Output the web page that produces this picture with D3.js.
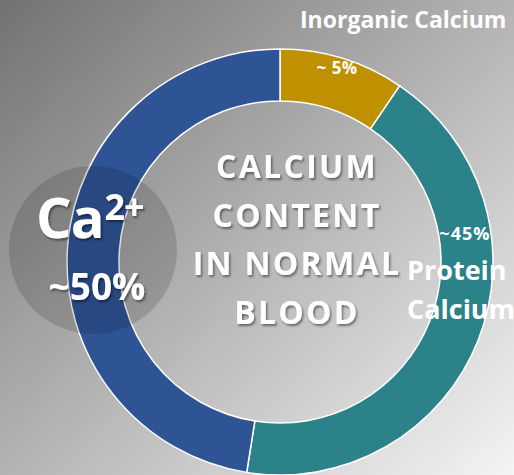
<!DOCTYPE html>
<html>
<head>
<meta charset="utf-8">
<script src="https://cdn.jsdelivr.net/npm/d3@7"></script>
<style>
  html, body { margin: 0; padding: 0; overflow: hidden; }
  svg { display: block; font-family: "Open Sans", Lato, sans-serif; font-weight: bold; }
</style>
</head>
<body>
<div id="chart"></div>
<script>
// calcium fractions in normal blood (slice sizes as drawn)
const categories = ['Inorganic Calcium', 'Protein Calcium', 'Ionized Calcium'];
const shares = [9.5, 43, 47.5];
const valueLabels = ['~ 5%', '~45%', '~50%'];
const colors = ['#bf9000', '#2b8389', '#2e5496'];
const titleLines = ['CALCIUM', 'CONTENT', 'IN NORMAL', 'BLOOD'];

const width = 514;
const height = 475;
const cx = 280;
const cy = 262;
const outerR = 213;
const innerR = 161;

const svg = d3
  .select('#chart')
  .append('svg')
  .attr('width', width)
  .attr('height', height);

const defs = svg.append('defs');

const bg = defs
  .append('linearGradient')
  .attr('id', 'bg')
  .attr('x1', '0%')
  .attr('y1', '0%')
  .attr('x2', '100%')
  .attr('y2', '100%');
bg.append('stop').attr('offset', '0%').attr('stop-color', '#727272');
bg.append('stop').attr('offset', '100%').attr('stop-color', '#f4f4f4');

const shadow = defs.append('filter').attr('id', 'shadow').attr('x', '-20%').attr('y', '-20%').attr('width', '140%').attr('height', '140%');
shadow
  .append('feDropShadow')
  .attr('dx', 1.5)
  .attr('dy', 2)
  .attr('stdDeviation', 1.2)
  .attr('flood-color', '#000')
  .attr('flood-opacity', 0.45);

svg.append('rect').attr('width', width).attr('height', height).attr('fill', 'url(#bg)');

// donut
const pie = d3.pie().sort(null).value(d => d);
const slices = pie(shares);
const arc = d3.arc().innerRadius(innerR).outerRadius(outerR);

const g = svg.append('g').attr('transform', `translate(${cx},${cy})`);

g.selectAll('path')
  .data(slices)
  .enter()
  .append('path')
  .attr('d', arc)
  .attr('fill', (d, i) => colors[i])
  .attr('stroke', '#ffffff')
  .attr('stroke-width', 1.5);

// slice labels placed along their own slice
const labelSpots = [
  { frac: 0.48, r: 202, size: 17, spacing: 0.5 },
  { frac: 0.305, r: 187, size: 18, spacing: 1 },
];
labelSpots.forEach((spot, i) => {
  const s = slices[i];
  const a = s.startAngle + spot.frac * (s.endAngle - s.startAngle);
  g.append('text')
    .attr('x', spot.r * Math.sin(a))
    .attr('y', -spot.r * Math.cos(a))
    .attr('dy', '0.35em')
    .attr('text-anchor', 'middle')
    .attr('fill', '#ffffff')
    .attr('font-size', spot.size)
    .attr('letter-spacing', spot.spacing)
    .text(valueLabels[i]);
});

// overlay circle for the ionized part
svg.append('circle')
  .attr('cx', 93)
  .attr('cy', 250)
  .attr('r', 84)
  .attr('fill', '#000')
  .attr('fill-opacity', 0.14);

const ca = svg.append('text')
  .attr('x', 36)
  .attr('y', 238)
  .attr('fill', '#ffffff')
  .attr('font-size', 56)
  .attr('letter-spacing', -1)
  .attr('filter', 'url(#shadow)');
ca.append('tspan').text('Ca');
ca.append('tspan').attr('font-size', 36).attr('dy', -18).attr('dx', 1).text('2+');

svg.append('text')
  .attr('x', 97)
  .attr('y', 300)
  .attr('text-anchor', 'middle')
  .attr('fill', '#ffffff')
  .attr('font-size', 37)
  .attr('filter', 'url(#shadow)')
  .text(valueLabels[2]);

// centre title
svg.append('g')
  .selectAll('text')
  .data(titleLines)
  .enter()
  .append('text')
  .attr('x', 297)
  .attr('y', (d, i) => 178 + i * 48.5)
  .attr('text-anchor', 'middle')
  .attr('fill', '#ffffff')
  .attr('font-size', 32)
  .attr('letter-spacing', 2.3)
  .attr('filter', 'url(#shadow)')
  .text(d => d);

// category labels
svg.append('text')
  .attr('x', 300)
  .attr('y', 28)
  .attr('fill', '#ffffff')
  .attr('font-size', 23)
  .text(categories[0]);

const protein = categories[1].split(' ');
svg.append('g')
  .selectAll('text')
  .data(protein)
  .enter()
  .append('text')
  .attr('x', 407)
  .attr('y', (d, i) => 280 + i * 39)
  .attr('fill', '#ffffff')
  .attr('font-size', 27)
  .text(d => d);
</script>
</body>
</html>
